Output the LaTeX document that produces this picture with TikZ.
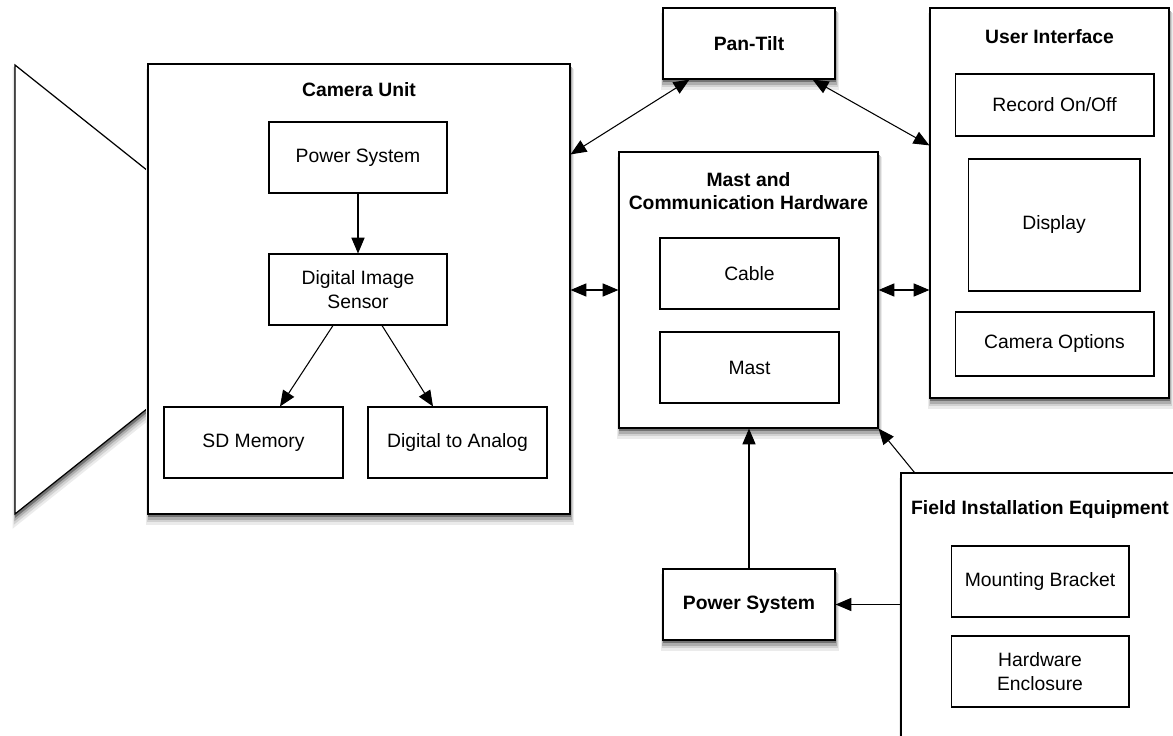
\documentclass[tikz,border=0pt]{standalone}
\usepackage{fontspec}
\setmainfont{Liberation Sans}
\usepackage{tikz}
\usetikzlibrary{arrows.meta,shadows}
\tikzset{
    outer-box/.style = {draw=black, fill=white, line width=0.7pt, rectangle, inner sep=0pt,
        general shadow={shadow xshift=0.5pt, shadow yshift=-4.6pt, fill=black!8, draw=black!8, line width=3.6pt},
        general shadow={shadow xshift=0.5pt, shadow yshift=-3.6pt, fill=black!18, draw=black!18, line width=2.4pt},
        general shadow={shadow xshift=0.4pt, shadow yshift=-2.6pt, fill=black!32, draw=black!32, line width=1.4pt},
        general shadow={shadow xshift=0.3pt, shadow yshift=-1.6pt, fill=black!55, draw=black!55, line width=0.6pt}},
    inner-box/.style = {draw=black, fill=white, line width=0.6pt, rectangle, inner sep=2pt, align=center,
        minimum width=3.56cm, minimum height=1.42cm, font=\fontsize{11}{13.5}\selectfont},
    box-title/.style = {align=center, inner sep=0pt, font=\fontsize{11}{13.5}\selectfont\bfseries},
    link/.style = {line width=0.6pt, -{Triangle[length=9pt,width=7.5pt]}},
    both-link/.style = {line width=0.6pt, {Triangle[length=9pt,width=7.5pt]}-{Triangle[length=9pt,width=7.5pt]}},
}

\begin{document}
\begin{tikzpicture}[x=0.02cm, y=-0.02cm]
\clip (0,0) rectangle (1173,736);

\draw[outer-box, line join=miter] (15,65) -- (148,171) -- (148,408) -- (15,514) -- cycle;
\node[outer-box, minimum width=8.44cm, minimum height=9cm] (cam) at (359,289) {};
\node[box-title] at (359,90) {Camera Unit};
\node[inner-box] (cam-power) at (358,157.5) {Power System};
\node[inner-box] (sensor) at (358,289.5) {Digital Image\\Sensor};
\node[inner-box, minimum width=3.58cm] (sd-memory) at (253.5,442.5) {SD Memory};
\node[inner-box, minimum width=3.58cm] (d-to-a) at (457.5,442.5) {Digital to Analog};

\node[outer-box, minimum width=3.44cm, minimum height=1.42cm, font=\fontsize{11}{13.5}\selectfont\bfseries] (pan-tilt) at (749,43.5) {Pan-Tilt};

\node[outer-box, minimum width=5.18cm, minimum height=5.52cm] (mast) at (748.5,290) {};
\node[box-title] at (748.5,191) {Mast and\\Communication Hardware};
\node[inner-box, minimum width=3.58cm] (cable) at (749.5,273.5) {Cable};
\node[inner-box, minimum width=3.58cm] (mast-part) at (749.5,367.5) {Mast};

\node[outer-box, minimum width=4.78cm, minimum height=7.8cm] (ui) at (1049.5,203) {};
\node[box-title] at (1049.5,37) {User Interface};
\node[inner-box, minimum width=3.98cm, minimum height=1.24cm] (record) at (1054.5,105) {Record On/Off};
\node[inner-box, minimum width=3.44cm, minimum height=2.64cm] (display) at (1054,225) {Display};
\node[inner-box, minimum width=3.98cm, minimum height=1.28cm] (cam-options) at (1054.5,344) {Camera Options};

\node[outer-box, minimum width=5.56cm, minimum height=5.88cm] (field) at (1040,620) {};
\node[box-title] at (1040,510) {Field Installation Equipment};
\node[inner-box] (bracket) at (1040,581.5) {Mounting Bracket};
\node[inner-box] (enclosure) at (1040,671.5) {Hardware\\Enclosure};

\node[outer-box, minimum width=3.44cm, minimum height=1.42cm, font=\fontsize{11}{13.5}\selectfont\bfseries] (field-power) at (749,604.5) {Power System};

\draw[link] (cam-power) -- (sensor);
\draw[link] ([xshift=-0.5cm]sensor.south) -- ([xshift=0.53cm]sd-memory.north);
\draw[link] ([xshift=0.48cm]sensor.south) -- ([xshift=-0.49cm]d-to-a.north);
\draw[both-link] ([xshift=0.54cm]pan-tilt.south west) -- ([yshift=-1.82cm]cam.north east);
\draw[both-link] ([xshift=-0.46cm]pan-tilt.south east) -- ([yshift=-2.76cm]ui.north west);
\draw[both-link] (mast.west -| cam.east) -- (mast.west);
\draw[both-link] (mast.east) -- (mast.east -| ui.west);
\draw[link] ([xshift=0.28cm]field.north west) -- (mast.south east);
\draw[link] (field.west |- field-power) -- (field-power.east);
\draw[link] (field-power.north) -- (field-power.north |- mast.south);
\end{tikzpicture}
\end{document}
